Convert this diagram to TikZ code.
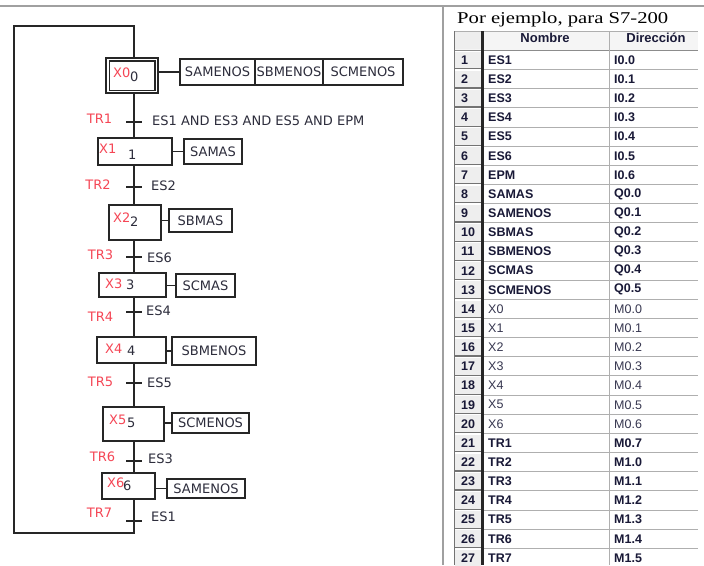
\documentclass[tikz,border=0pt]{standalone}
\usepackage{fontspec}
\setmainfont{Liberation Serif}
\newfontfamily\dejavu{DejaVu Sans}
\newfontfamily\arialf{Liberation Sans}
\usetikzlibrary{calc}
\definecolor{redlab}{RGB}{245,70,85}
\definecolor{darktxt}{RGB}{45,45,60}
\definecolor{navytxt}{RGB}{25,25,55}
\definecolor{lighttxt}{RGB}{55,55,80}
\definecolor{gridgray}{RGB}{175,175,175}
\definecolor{framegray}{RGB}{160,160,160}
\definecolor{btnfill}{RGB}{238,238,238}
\tikzset{
  dfont/.style={font=\dejavu\fontsize{13}{15}\selectfont},
  stepbox/.style={draw=black!85, line width=1.8pt, inner sep=0pt, fill=white},
  actbox/.style={draw=black!85, line width=1.6pt, inner sep=0pt, fill=white, dfont, text=darktxt},
  wire/.style={draw=black!85, line width=1.6pt},
  ticks/.style={draw=black!85, line width=2pt},
  trlab/.style={dfont, text=redlab, inner sep=0pt},
  xlab/.style={dfont, text=redlab, inner sep=0pt, anchor=west},
  numlab/.style={dfont, text=darktxt, inner sep=0pt, anchor=west},
  condlab/.style={dfont, text=darktxt, inner sep=0pt, anchor=west},
  tb/.style={font=\arialf\bfseries\fontsize{12.5}{14}\selectfont, text=navytxt, inner sep=0pt, anchor=west},
  tn/.style={font=\arialf\fontsize{12.5}{14}\selectfont, text=lighttxt, inner sep=0pt, anchor=west},
  hdr/.style={font=\arialf\bfseries\fontsize{13}{15}\selectfont, text=navytxt, inner sep=0pt},
  frameline/.style={draw=framegray, line width=1.2pt}
}
\begin{document}
\begin{tikzpicture}[x=1pt,y=-1pt]
\clip (0,0) rectangle (704,565);
\fill[white] (0,0) rectangle (704,565);

% frame
\draw[frameline] (0,6) -- (704,6);
\draw[frameline] (443,6) -- (443,565);

% ---------------- GRAFCET ----------------
\coordinate (sp) at (134,0);
\coordinate (ltop) at (14,26);
\coordinate (rtop) at (134,26);
\coordinate (lbot) at (14,533);
\coordinate (rbot) at (134,533);

% steps
\node[stepbox, minimum width=52pt, minimum height=35pt] (x0) at (132,75.5) {};
\draw[draw=black!85, line width=1.4pt] ($(x0.north west)+(4.5,4)$) rectangle ($(x0.south east)+(-4,-3.5)$);
\node[stepbox, minimum width=74pt, minimum height=27pt] (x1) at (135,151.5) {};
\node[stepbox, minimum width=52pt, minimum height=35pt] (x2) at (135,222.5) {};
\node[stepbox, minimum width=67pt, minimum height=24pt] (x3) at (132.5,285) {};
\node[stepbox, minimum width=69pt, minimum height=26pt] (x4) at (131.5,350) {};
\node[stepbox, minimum width=61pt, minimum height=34pt] (x5) at (133.5,424) {};
\node[stepbox, minimum width=53pt, minimum height=26pt] (x6) at (128.5,486) {};

% step labels
\node[xlab] (lx0) at (113,73) {X0};
\node[numlab] (nx0) at (130,76.5) {0};
\node[xlab] (lx1) at (99,148.5) {X1};
\node[numlab] (nx1) at (128,155) {1};
\node[xlab] (lx2) at (113,217.5) {X2};
\node[numlab] (nx2) at (130,222) {2};
\node[xlab] (lx3) at (105,284) {X3};
\node[numlab] (nx3) at (126,285) {3};
\node[xlab] (lx4) at (105,349) {X4};
\node[numlab] (nx4) at (127,351) {4};
\node[xlab] (lx5) at (109,419.5) {X5};
\node[numlab] (nx5) at (127,423) {5};
\node[xlab] (lx6) at (107,483) {X6};
\node[numlab] (nx6) at (123,485.5) {6};

% action boxes
\node[actbox, minimum width=75pt, minimum height=26pt] (a0a) at (217.5,72) {SAMENOS};
\node[actbox, minimum width=68pt, minimum height=26pt] (a0b) at (289,72) {SBMENOS};
\node[actbox, minimum width=80pt, minimum height=26pt] (a0c) at (363,72) {SCMENOS};
\node[actbox, minimum width=58pt, minimum height=25pt] (a1) at (213,151.5) {SAMAS};
\node[actbox, minimum width=63pt, minimum height=23pt] (a2) at (200.5,220.5) {SBMAS};
\node[actbox, minimum width=59pt, minimum height=23pt] (a3) at (205.5,285.5) {SCMAS};
\node[actbox, minimum width=84pt, minimum height=28pt] (a4) at (214,351) {SBMENOS};
\node[actbox, minimum width=77pt, minimum height=20pt] (a5) at (210.5,423) {SCMENOS};
\node[actbox, minimum width=78pt, minimum height=19pt] (a6) at (206,488.5) {SAMENOS};

% action connectors
\draw[wire] (a0a.west -| x0.east) -- (a0a.west);
\draw[wire] (a1.west -| x1.east) -- (a1.west);
\draw[wire] (a2.west -| x2.east) -- (a2.west);
\draw[wire] (a3.west -| x3.east) -- (a3.west);
\draw[wire] (a4.west -| x4.east) -- (a4.west);
\draw[wire] (a5.west -| x5.east) -- (a5.west);
\draw[wire] (a6.west -| x6.east) -- (a6.west);

% spine
\draw[wire] (x0.south -| sp) -- (x1.north -| sp);
\draw[wire] (x1.south -| sp) -- (x2.north -| sp);
\draw[wire] (x2.south -| sp) -- (x3.north -| sp);
\draw[wire] (x3.south -| sp) -- (x4.north -| sp);
\draw[wire] (x4.south -| sp) -- (x5.north -| sp);
\draw[wire] (x5.south -| sp) -- (x6.north -| sp);
\draw[wire] (x6.south -| sp) -- (rbot) -- (lbot) -- (ltop) -- (rtop) -- (x0.north -| sp);

% transitions
\foreach \t/\yy in {1/122,2/187,3/257,4/312,5/383,6/461,7/521}{
  \coordinate (t\t) at (134,\yy);
  \draw[ticks] ($(t\t)+(-8,0)$) -- ($(t\t)+(8,0)$);
}
\node[trlab] (tr1) at (99.5,119) {TR1};
\node[trlab] (tr2) at (98,185) {TR2};
\node[trlab] (tr3) at (100.5,255) {TR3};
\node[trlab] (tr4) at (100.5,317) {TR4};
\node[trlab] (tr5) at (100.5,382) {TR5};
\node[trlab] (tr6) at (102.5,457) {TR6};
\node[trlab] (tr7) at (99.5,513) {TR7};

\node[condlab] (c1) at (152,121) {ES1 AND ES3 AND ES5 AND EPM};
\node[condlab] (c2) at (151,186) {ES2};
\node[condlab] (c3) at (147,258) {ES6};
\node[condlab] (c4) at (146,311) {ES4};
\node[condlab] (c5) at (147,383) {ES5};
\node[condlab] (c6) at (148,459) {ES3};
\node[condlab] (c7) at (151,517) {ES1};

% ---------------- TABLE ----------------
\node[anchor=base west, inner sep=0pt] (title) at (457,23)
  {\resizebox{211pt}{\height}{\fontsize{16.5}{18}\selectfont Por ejemplo, para S7-200}};

% header
\fill[black!4] (454,31) rectangle (698,50.4);
\fill[btnfill] (455,32) rectangle (481,49.4);
\draw[gridgray, line width=0.8pt] (454,31) -- (698,31);
\draw[black!45, line width=1pt] (454,50.4) -- (698,50.4);
\node[hdr] (hn) at (545,37.5) {Nombre};
\node[hdr] (hd) at (656,37.5) {Dirección};

\foreach \nm/\ad/\st [count=\i] in {
  ES1/I0.0/tb, ES2/I0.1/tb, ES3/I0.2/tb, ES4/I0.3/tb, ES5/I0.4/tb, ES6/I0.5/tb, EPM/I0.6/tb,
  SAMAS/Q0.0/tb, SAMENOS/Q0.1/tb, SBMAS/Q0.2/tb, SBMENOS/Q0.3/tb, SCMAS/Q0.4/tb, SCMENOS/Q0.5/tb,
  X0/M0.0/tn, X1/M0.1/tn, X2/M0.2/tn, X3/M0.3/tn, X4/M0.4/tn, X5/M0.5/tn, X6/M0.6/tn,
  TR1/M0.7/tb, TR2/M1.0/tb, TR3/M1.1/tb, TR4/M1.2/tb, TR5/M1.3/tb, TR6/M1.4/tb, TR7/M1.5/tb}{
  \pgfmathsetmacro\yc{60+(\i-1)*19.15}
  \pgfmathsetmacro\yt{\yc-9.6}
  \pgfmathsetmacro\yb{\yc+9.55}
  \fill[btnfill] (455,\yt+1.2) rectangle (481,\yb-1.2);
  \draw[black!55, line width=1.2pt] (455,\yb-0.8) -- (481,\yb-0.8);
  \draw[gridgray, line width=1pt] (482,\yb) -- (698,\yb);
  \node[tb, text=navytxt] (num\i) at (461,\yc) {\i};
  \node[\st] (nm\i) at (488,\yc) {\nm};
  \node[\st] (ad\i) at (614,\yc) {\ad};
}
% column lines
\draw[black!55, line width=1pt] (454,31) -- (454,565);
\draw[black!85, line width=2.6pt] (482.5,31) -- (482.5,565);
\draw[gridgray, line width=1pt] (609,31) -- (609,565);
\end{tikzpicture}
\end{document}
